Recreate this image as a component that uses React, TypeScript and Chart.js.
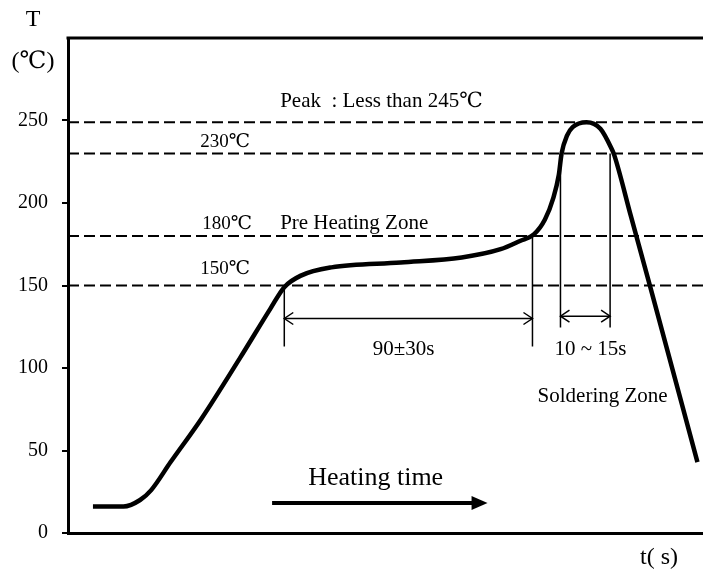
import React, { useEffect, useRef } from "react";
import { Chart, registerables } from "chart.js";

Chart.register(...registerables);

// Reflow profile (time in s, temperature in °C)
const profileTime = [9, 20, 26, 30, 37, 48, 62, 73, 78, 84, 95, 120, 142, 156, 163, 168, 172, 175, 177, 178, 180, 182, 187, 192, 196, 197, 203, 210, 227];
const profileTemp = [16, 16, 20, 26, 43, 69, 106, 136, 149, 156, 161, 164, 167, 172, 177, 181, 190, 203, 217, 230, 241, 246, 249, 245, 233, 229, 192, 149, 43];

// Reference temperature levels (dashed lines)
const levelTemps = [249, 230, 180, 150];

// Y-axis tick labels
const yTicks = [0, 50, 100, 150, 200, 250];

// Zone boundaries (s) and their drop-line bottoms (°C)
const preheatStart = 78;
const preheatEnd = 167.5;
const solderStart = 177.6;
const solderEnd = 195.5;
const preheatStartTemp = 150;
const preheatEndTemp = 181;
const solderTopTemp = 230;
const preheatLineBottom = 113;
const solderLineBottom = 124.5;
const preheatArrowTemp = 130;
const solderArrowTemp = 131.4;

// Heating time arrow
const heatArrowFrom = 73.6;
const heatArrowTo = 151.3;
const heatArrowTemp = 18.2;

const X_MIN = 0;
const X_MAX = 229;
const Y_MIN = 0;
const Y_MAX = 300;

const FONT = "'Liberation Serif', 'DejaVu Serif', serif";

const annotationPlugin = {
  id: "reflowAnnotations",
  afterDatasetsDraw(chart: any) {
    const { ctx, chartArea, scales } = chart;
    const xs = scales.x;
    const ys = scales.y;
    const X = (v: number) => xs.getPixelForValue(v);
    const Y = (v: number) => ys.getPixelForValue(v);
    ctx.save();

    // top frame line
    ctx.strokeStyle = "#000";
    ctx.lineWidth = 3;
    ctx.beginPath();
    ctx.moveTo(chartArea.left - 1.5, chartArea.top);
    ctx.lineTo(chartArea.right, chartArea.top);
    ctx.stroke();

    // double arrows
    const arrowHead = (x: number, y: number, dir: number) => {
      ctx.beginPath();
      ctx.moveTo(x + dir * 9, y - 6);
      ctx.lineTo(x, y);
      ctx.lineTo(x + dir * 9, y + 6);
      ctx.stroke();
    };
    ctx.lineWidth = 1.5;
    const dbl = (a: number, b: number, t: number) => {
      const x1 = X(a), x2 = X(b), y = Y(t);
      ctx.beginPath();
      ctx.moveTo(x1, y);
      ctx.lineTo(x2, y);
      ctx.stroke();
      arrowHead(x1, y, 1);
      arrowHead(x2, y, -1);
    };
    dbl(preheatStart, preheatEnd, preheatArrowTemp);
    dbl(solderStart, solderEnd, solderArrowTemp);

    // heating time arrow
    {
      const x1 = X(heatArrowFrom), x2 = X(heatArrowTo), y = Y(heatArrowTemp);
      ctx.lineWidth = 4;
      ctx.beginPath();
      ctx.moveTo(x1, y);
      ctx.lineTo(x2 - 12, y);
      ctx.stroke();
      ctx.fillStyle = "#000";
      ctx.beginPath();
      ctx.moveTo(x2 - 16, y - 7);
      ctx.lineTo(x2, y);
      ctx.lineTo(x2 - 16, y + 7);
      ctx.closePath();
      ctx.fill();
    }

    // texts
    ctx.fillStyle = "#000";
    ctx.textBaseline = "middle";
    const text = (s: string, x: number, y: number, align: CanvasTextAlign, size: number) => {
      ctx.font = `${size}px ${FONT}`;
      ctx.textAlign = align;
      ctx.fillText(s, x, y);
    };
    text("Peak  : Less than 245\u2103", X(76.5), Y(261.5), "left", 21);
    text("230\u2103", X(47.7), Y(237), "left", 19);
    text("180\u2103", X(48.4), Y(187.3), "left", 19);
    text("Pre Heating Zone", X(76.5), Y(187.3), "left", 21);
    text("150\u2103", X(47.7), Y(160), "left", 19);
    text("90\u00b130s", X(121), Y(111.3), "center", 21);
    text("10 ~ 15s", X(188.4), Y(111.3), "center", 21);
    text("Soldering Zone", X(192.8), Y(82.7), "center", 21);
    text("Heating time", X(86.6), Y(33.5), "left", 26);

    // axis titles
    text("T", chartArea.left - 35, chartArea.top - 18, "center", 24);
    text("(\u2103)", chartArea.left - 35, chartArea.top + 24, "center", 24);
    text("t( s)", 659, chartArea.bottom + 25, "center", 24);

    ctx.restore();
  },
};

export default function App() {
  const canvasRef = useRef<HTMLCanvasElement | null>(null);

  useEffect(() => {
    if (!canvasRef.current) return;
    const curve = profileTime.map((t, i) => ({ x: t, y: profileTemp[i] }));
    const levels = levelTemps.map((v) => ({
      label: `level-${v}`,
      data: [
        { x: X_MIN, y: v },
        { x: X_MAX, y: v },
      ],
      borderColor: "#000",
      borderWidth: 2,
      borderDash: [11, 5],
      pointRadius: 0,
      tension: 0,
    }));
    const vline = (x: number, top: number, bottom: number) => ({
      label: `v-${x}`,
      data: [
        { x, y: top },
        { x, y: bottom },
      ],
      borderColor: "#000",
      borderWidth: 1.5,
      pointRadius: 0,
      tension: 0,
    });

    const chart = new Chart(canvasRef.current, {
      type: "line",
      data: {
        datasets: [
          ...levels,
          vline(preheatStart, preheatStartTemp, preheatLineBottom),
          vline(preheatEnd, preheatEndTemp, preheatLineBottom),
          vline(solderStart, solderTopTemp, solderLineBottom),
          vline(solderEnd, solderTopTemp, solderLineBottom),
          {
            label: "profile",
            data: curve,
            borderColor: "#000",
            borderWidth: 4.5,
            pointRadius: 0,
            cubicInterpolationMode: "monotone",
          } as any,
        ],
      },
      options: {
        animation: false,
        responsive: false,
        maintainAspectRatio: false,
        layout: { padding: { top: 38, right: 0, left: 0, bottom: 0 } },
        plugins: {
          legend: { display: false },
          tooltip: { enabled: false },
          title: { display: false },
        },
        scales: {
          x: {
            type: "linear",
            min: X_MIN,
            max: X_MAX,
            grid: { display: false, drawTicks: false },
            border: { display: true, color: "#000", width: 3 },
            ticks: { display: false },
            afterFit: (scale: any) => {
              scale.height = 38;
            },
          },
          y: {
            type: "linear",
            min: Y_MIN,
            max: Y_MAX,
            afterBuildTicks: (scale: any) => {
              scale.ticks = yTicks.map((v) => ({ value: v }));
            },
            grid: {
              display: true,
              drawOnChartArea: false,
              drawTicks: true,
              tickLength: 6,
              color: "#000",
              lineWidth: 2,
            },
            border: { display: true, color: "#000", width: 3 },
            ticks: {
              color: "#000",
              padding: 14,
              font: { family: FONT, size: 20 },
              callback: (v: any) => String(v),
            },
            afterFit: (scale: any) => {
              scale.width = 68;
            },
          },
        },
      },
      plugins: [annotationPlugin],
    });
    return () => chart.destroy();
  }, []);

  return (
    <div style={{ position: "absolute", left: 0, top: 0, width: 703, height: 571, background: "#fff" }}>
      <canvas ref={canvasRef} width={703} height={571} style={{ width: 703, height: 571 }} />
    </div>
  );
}
